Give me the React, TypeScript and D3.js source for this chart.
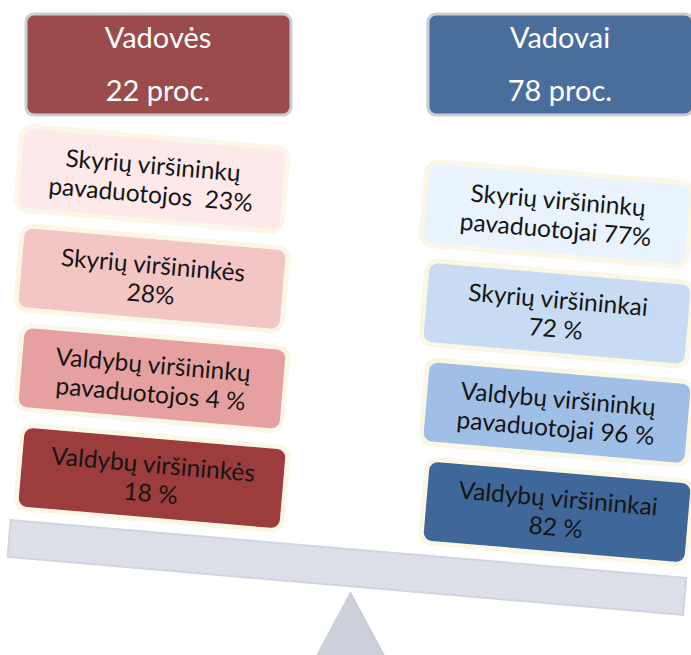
import React from "react";
import * as d3 from "d3";

const groups = ["Vadovės", "Vadovai"];
const groupShares = [22, 78];

const leftLabels = [
  ["Skyrių viršininkų", "pavaduotojos  "],
  ["Skyrių viršininkės", ""],
  ["Valdybų viršininkų", "pavaduotojos "],
  ["Valdybų viršininkės", ""],
];
const leftValues = [23, 28, 4, 18];
const leftSuffix = ["%", "%", " %", " %"];

const rightLabels = [
  ["Skyrių viršininkų", "pavaduotojai "],
  ["Skyrių viršininkai", ""],
  ["Valdybų viršininkų", "pavaduotojai "],
  ["Valdybų viršininkai", ""],
];
const rightValues = [77, 72, 96, 82];
const rightSuffix = ["%", " %", " %", " %"];

const leftFills = ["#FDE9E9", "#F3C5C5", "#E6A0A0", "#9D3C3C"];
const rightFills = ["#E9F3FD", "#C7DBF2", "#A0BFE6", "#3F6799"];
const headerFills = ["#9C4B4B", "#4A6E9C"];

const W = 691;
const H = 655;
const ANGLE = 4.9;
const FONT = "Lato, 'Open Sans', sans-serif";

export default function App() {
  const idx = d3.range(4);
  const yLeft = d3.scalePoint<number>().domain(idx).range([179, 478]);
  const yRight = d3.scalePoint<number>().domain(idx).range([214, 512]);
  const xCol = d3.scaleOrdinal<number, number>().domain([0, 1]).range([152, 557]);
  const headerX = d3.scaleOrdinal<number, number>().domain([0, 1]).range([26, 428]);

  const boxW = 267;
  const boxH = 84;

  const beamLen = 678;
  const beamH = 37;
  const pivot: [number, number] = [348.5, 549];

  const tri = d3.line()([
    [350, 592],
    [395, 676],
    [305, 676],
  ]);

  const renderBox = (
    side: number,
    i: number,
    lines: string[],
    value: number,
    suffix: string,
    fill: string
  ) => {
    const cx = xCol(side);
    const cy = side === 0 ? yLeft(i)! : yRight(i)!;
    const line2 = lines[1] + value + suffix;
    return (
      <g key={`${side}-${i}`} transform={`translate(${cx},${cy}) rotate(${ANGLE})`}>
        <rect
          x={-boxW / 2}
          y={-boxH / 2}
          width={boxW}
          height={boxH}
          rx={11}
          fill={fill}
          stroke="#FBF7E6"
          strokeWidth={5}
        />
        <text
          textAnchor="middle"
          fontFamily={FONT}
          fontSize={24.5}
          fill="#151515"
          style={{ whiteSpace: "pre" }}
        >
          <tspan x={0} y={-5}>{lines[0]}</tspan>
          <tspan x={0} y={24}>{line2}</tspan>
        </text>
      </g>
    );
  };

  return (
    <svg
      width={W}
      height={H}
      style={{ position: "absolute", left: 0, top: 0, display: "block" }}
    >
      <rect width={W} height={H} fill="#ffffff" />

      {/* fulcrum */}
      <path d={tri ?? ""} fill="#CBD0DA" stroke="#C3C9D3" strokeWidth={1.5} />

      {/* beam */}
      <g transform={`translate(${pivot[0]},${pivot[1]}) rotate(${ANGLE})`}>
        <rect
          x={-beamLen / 2}
          y={0}
          width={beamLen}
          height={beamH}
          fill="#DCDFE7"
          stroke="#D1D5DF"
          strokeWidth={2}
        />
      </g>

      {/* headers */}
      {groups.map((g, k) => (
        <g key={g}>
          <rect
            x={headerX(k)}
            y={14}
            width={265}
            height={101}
            rx={8}
            fill={headerFills[k]}
            stroke="#C9CDD5"
            strokeWidth={3}
          />
          <text
            x={headerX(k) + 132}
            y={48}
            textAnchor="middle"
            fontFamily={FONT}
            fontSize={29}
            fill="#ffffff"
          >
            {g}
          </text>
          <text
            x={headerX(k) + 132}
            y={101}
            textAnchor="middle"
            fontFamily={FONT}
            fontSize={29}
            fill="#ffffff"
          >
            {`${groupShares[k]} proc.`}
          </text>
        </g>
      ))}

      {idx.map((i) =>
        renderBox(0, i, leftLabels[i], leftValues[i], leftSuffix[i], leftFills[i])
      )}
      {idx.map((i) =>
        renderBox(1, i, rightLabels[i], rightValues[i], rightSuffix[i], rightFills[i])
      )}
    </svg>
  );
}
